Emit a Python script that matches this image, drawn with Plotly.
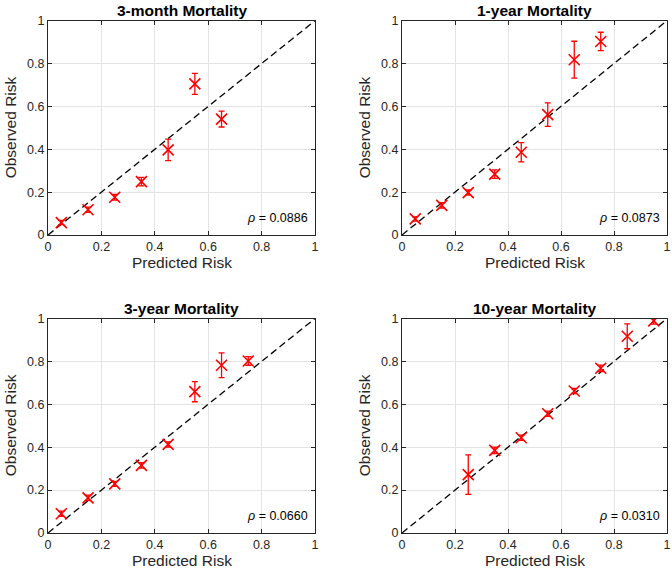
import plotly.graph_objects as go

# ---------------- data ----------------
titles = ["3-month Mortality", "1-year Mortality", "3-year Mortality", "10-year Mortality"]
rho_labels = ["0.0886", "0.0873", "0.0660", "0.0310"]

pred_3m = [0.05, 0.15, 0.25, 0.35, 0.45, 0.55, 0.65]
obs_3m = [0.058, 0.118, 0.176, 0.249, 0.397, 0.705, 0.541]
err_3m = [0.010, 0.012, 0.013, 0.020, 0.050, 0.049, 0.037]

pred_1y = [0.05, 0.15, 0.25, 0.35, 0.45, 0.55, 0.65, 0.75]
obs_1y = [0.075, 0.138, 0.198, 0.284, 0.386, 0.562, 0.818, 0.903]
err_1y = [0.010, 0.013, 0.012, 0.020, 0.045, 0.055, 0.086, 0.043]

pred_3y = [0.05, 0.15, 0.25, 0.35, 0.45, 0.55, 0.65, 0.75]
obs_3y = [0.090, 0.164, 0.229, 0.315, 0.413, 0.659, 0.782, 0.802]
err_3y = [0.012, 0.013, 0.012, 0.013, 0.012, 0.047, 0.058, 0.020]

pred_10y = [0.25, 0.35, 0.45, 0.55, 0.65, 0.75, 0.85, 0.95]
obs_10y = [0.272, 0.385, 0.444, 0.556, 0.662, 0.768, 0.917, 0.989]
err_10y = [0.092, 0.015, 0.012, 0.012, 0.012, 0.015, 0.058, 0.015]

diag_x = [0, 1]
diag_y = [0, 1]
tick_vals = [0, 0.2, 0.4, 0.6, 0.8, 1]
tick_text = ["0", "0.2", "0.4", "0.6", "0.8", "1"]

series = [(pred_3m, obs_3m, err_3m), (pred_1y, obs_1y, err_1y),
          (pred_3y, obs_3y, err_3y), (pred_10y, obs_10y, err_10y)]

# ---------------- layout geometry ----------------
W, H = 672, 579
x_doms = [(48 / W, 315 / W), (402 / W, 667 / W)]
y_doms = [(1 - 235 / H, 1 - 20.7 / H), (1 - 533 / H, 1 - 318.5 / H)]

fig = go.Figure()
FONT = "Liberation Sans, Arial, Helvetica, sans-serif"
TXT = "#262626"

layout = dict(
    width=W, height=H,
    margin=dict(l=0, r=0, t=0, b=0),
    paper_bgcolor="white", plot_bgcolor="white",
    showlegend=False,
    font=dict(family=FONT, size=12, color=TXT),
)
annotations = []

for i, (px, py, pe) in enumerate(series):
    row, col = divmod(i, 2)
    n = i + 1
    xa = "x" if n == 1 else f"x{n}"
    ya = "y" if n == 1 else f"y{n}"
    xkey = "xaxis" if n == 1 else f"xaxis{n}"
    ykey = "yaxis" if n == 1 else f"yaxis{n}"

    fig.add_trace(go.Scatter(
        x=diag_x, y=diag_y, mode="lines", xaxis=xa, yaxis=ya,
        line=dict(color="black", width=1.3, dash="7px,4px"), hoverinfo="skip"))
    fig.add_trace(go.Scatter(
        x=px, y=py, mode="markers", xaxis=xa, yaxis=ya,
        marker=dict(symbol="x-thin", size=11, color="red",
                    line=dict(color="red", width=1.6)),
        error_y=dict(type="data", array=pe, visible=True, color="red",
                     thickness=1.3, width=3)))

    axis_common = dict(
        range=[0, 1], tickvals=tick_vals, ticktext=tick_text,
        showgrid=True, gridcolor="#e3e3e3", gridwidth=1,
        zeroline=False, showline=True, linecolor=TXT, linewidth=1,
        mirror="ticks", ticks="inside", ticklen=4, tickcolor=TXT,
        tickfont=dict(family=FONT, size=12.5, color=TXT),
        automargin=False, fixedrange=True,
    )
    layout[xkey] = dict(axis_common, domain=list(x_doms[col]), anchor=ya)
    layout[ykey] = dict(axis_common, domain=list(y_doms[row]), anchor=xa)

    x0, x1 = x_doms[col]
    y0, y1 = y_doms[row]
    xc = (x0 + x1) / 2
    # title
    annotations.append(dict(
        text=f"<b>{titles[i]}</b>", x=xc, y=y1, xref="paper", yref="paper",
        xanchor="center", yanchor="bottom", yshift=0, showarrow=False,
        font=dict(family=FONT, size=15.5, color="black")))
    # x label
    annotations.append(dict(
        text="Predicted Risk", x=xc, y=y0, xref="paper", yref="paper",
        xanchor="center", yanchor="top", yshift=-17, showarrow=False,
        font=dict(family=FONT, size=15.5, color=TXT)))
    # y label
    annotations.append(dict(
        text="Observed Risk", x=x0, y=(y0 + y1) / 2, xref="paper", yref="paper",
        xanchor="right", yanchor="middle", xshift=-27, textangle=-90,
        showarrow=False, font=dict(family=FONT, size=15.5, color=TXT)))
    # rho
    annotations.append(dict(
        text=f"<i>ρ</i> = {rho_labels[i]}", x=0.98, y=0.08, xref=xa, yref=ya,
        xanchor="right", yanchor="middle", showarrow=False,
        font=dict(family=FONT, size=12.5, color="black")))

layout["annotations"] = annotations
fig.update_layout(**layout)
fig.write_html("out.html", config={"displayModeBar": False},
               post_script="document.body.style.margin='0';document.body.style.overflow='hidden';")
